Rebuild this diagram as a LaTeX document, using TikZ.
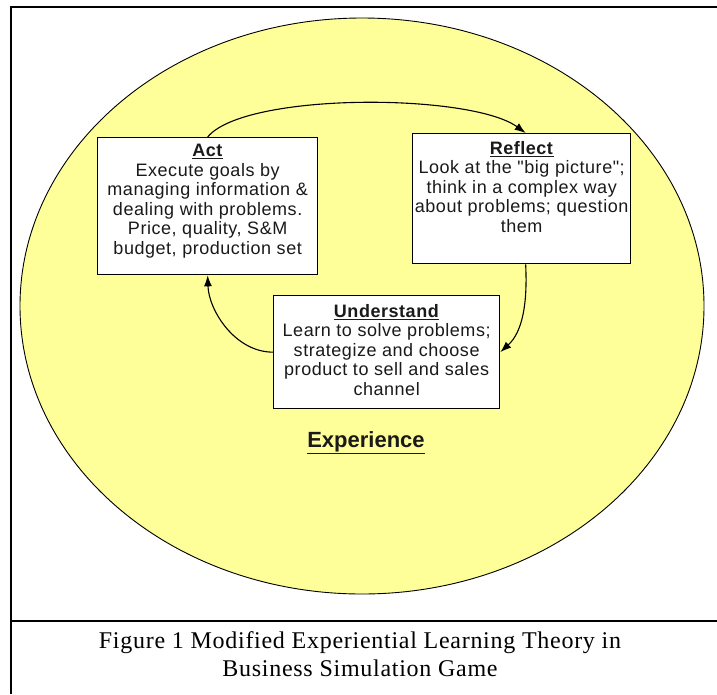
\documentclass[tikz,border=0pt]{standalone}
\usepackage{fontspec}
\setmainfont{Liberation Sans}
\newfontfamily\boxfont[LetterSpace=3]{Liberation Sans}
\newfontfamily\capfont[LetterSpace=3]{Liberation Serif}
\usetikzlibrary{arrows.meta}
\definecolor{paleyellow}{HTML}{FFFF99}
\definecolor{inkgray}{HTML}{1A1A1A}

\begin{document}
\begin{tikzpicture}[x=1pt,y=-1pt,
  frame/.style={line width=2.7pt},
  card/.style={draw=black, line width=1.3pt, fill=white, inner sep=0pt, anchor=north west},
  cardtext/.style={anchor=north, align=center, inner sep=0pt, text=inkgray,
    font=\boxfont\fontsize{18}{19.5}\selectfont},
  flow/.style={line width=1.1pt, -{Latex[length=11pt,width=8pt]}}]
\useasboundingbox (0,0) rectangle (717,694);
\fill[white] (0,0) rectangle (717,694);

% page frame and caption divider
\draw[frame] (11,694) -- (11,7) -- (717,7);
\draw[frame] (11,621) -- (717,621);

% experience ellipse
\draw[line width=0.9pt, fill=paleyellow] (362,306) ellipse [x radius=342pt, y radius=288pt];

% the three stages
\node[card, minimum width=220pt, minimum height=137pt] (act) at (97,137) {};
\node[card, minimum width=218pt, minimum height=130pt] (reflect) at (412,133) {};
\node[card, minimum width=226pt, minimum height=113pt] (underst) at (273,295) {};

\node[cardtext] (acttext) at ([yshift=-7pt]act.north)
  {\underline{\textbf{Act}}\\Execute goals by\\managing information \&\\dealing with problems.\\Price, quality, S\&M\\budget, production set};
\node[cardtext] (reflecttext) at ([yshift=-8pt]reflect.north)
  {\underline{\textbf{Reflect}}\\Look at the "big picture";\\think in a complex way\\about problems; question\\them};
\node[cardtext] (understtext) at ([yshift=-9pt]underst.north)
  {\underline{\textbf{Understand}}\\Learn to solve problems;\\strategize and choose\\product to sell and sales\\channel};

\node[font=\fontsize{22}{24}\selectfont\bfseries, text=inkgray] (explabel) at (366,443) {\underline{Experience}};

% learning cycle
\draw[flow] (act.north) .. controls +(37,-45) and +(-55,-40) .. ([xshift=4pt]reflect.north);
\draw[flow] ([xshift=4pt]reflect.south) .. controls +(2,40) and +(22,-20) .. (underst.east);
\draw[flow] (underst.west) .. controls +(-38,0) and +(1,35) .. (act.south);

% caption
\node[font=\capfont\fontsize{24}{28}\selectfont, align=center] (caption) at (360,654)
  {Figure 1 Modified Experiential Learning Theory in\\Business Simulation Game};
\end{tikzpicture}
\end{document}
